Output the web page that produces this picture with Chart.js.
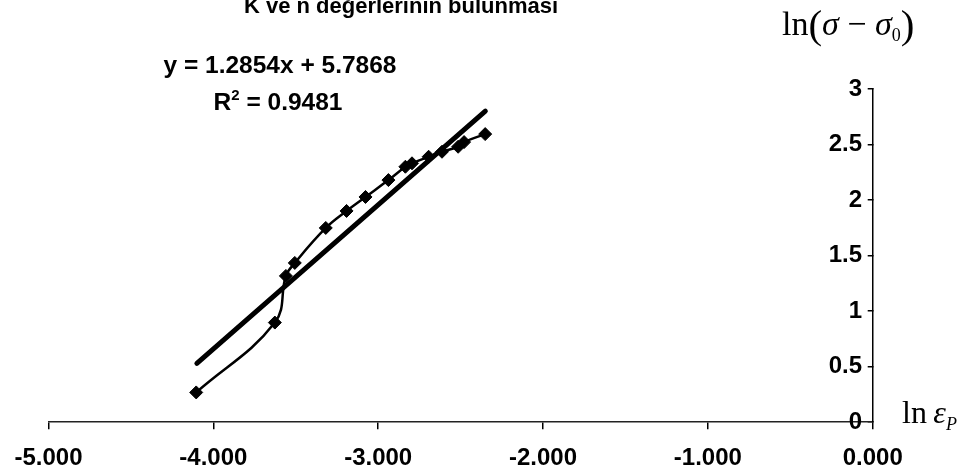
<!DOCTYPE html>
<html>
<head>
<meta charset="utf-8">
<script src="https://cdn.jsdelivr.net/npm/chart.js@4.4.1/dist/chart.umd.min.js"></script>
<style>
  html, body { margin: 0; padding: 0; background: #fff; overflow: hidden; }
  #wrap { width: 968px; height: 475px; }
</style>
</head>
<body>
<div id="wrap"><canvas id="c" width="968" height="475"></canvas></div>
<script>
// values
const lnEps = [-4.104, -3.627, -3.560, -3.506, -3.318, -3.192, -3.077, -2.938, -2.835, -2.795, -2.694, -2.613, -2.515, -2.479, -2.351];
const lnSigma = [0.268, 0.897, 1.317, 1.434, 1.749, 1.902, 2.028, 2.180, 2.300, 2.331, 2.390, 2.435, 2.480, 2.522, 2.594];

// linear trendline end points
const trendX = [-4.10, -2.35];
const trendY = [0.53, 2.80];

const xTicks = [-5, -4, -3, -2, -1, 0];
const yTicks = [0, 0.5, 1, 1.5, 2, 2.5, 3];

const titleText = 'K ve n değerlerinin bulunması';
const eqText = 'y = 1.2854x + 5.7868';
const r2Value = '0.9481';

const SANS = '"Liberation Sans", Arial, sans-serif';
const SERIF = '"Liberation Serif", "Times New Roman", serif';

// draw a run of [text, font, dy] pieces starting at x
function drawRun(ctx, parts, x, y) {
  parts.forEach(p => {
    ctx.font = p[1];
    ctx.fillText(p[0], x, y + (p[2] || 0));
    x += ctx.measureText(p[0]).width;
  });
}

function runWidth(ctx, parts) {
  let w = 0;
  parts.forEach(p => { ctx.font = p[1]; w += ctx.measureText(p[0]).width; });
  return w;
}

const textPlugin = {
  id: 'texts',
  afterDraw(chart) {
    const ctx = chart.ctx;
    ctx.save();
    ctx.fillStyle = '#000';
    ctx.textBaseline = 'alphabetic';
    ctx.textAlign = 'center';

    // title, cut at the top like the original
    ctx.font = 'bold 22px ' + SANS;
    ctx.fillText(titleText, 401, 13);

    // equation and R squared
    ctx.font = 'bold 24.5px ' + SANS;
    ctx.fillText(eqText, 280, 73);

    ctx.textAlign = 'left';
    const r2 = [
      ['R', 'bold 24.5px ' + SANS],
      ['2', 'bold 15px ' + SANS, -10],
      [' = ' + r2Value, 'bold 24.5px ' + SANS]
    ];
    drawRun(ctx, r2, 278 - runWidth(ctx, r2) / 2, 110);

    // y axis title
    const yt = [
      ['ln', '34px ' + SERIF],
      ['(', '41px ' + SERIF, 3],
      ['σ', 'italic 34px ' + SERIF],
      [' − ', '34px ' + SERIF],
      ['σ', 'italic 34px ' + SERIF],
      ['0', '18px ' + SERIF, 6],
      [')', '41px ' + SERIF, 3]
    ];
    drawRun(ctx, yt, 782, 35);

    // x axis title
    const xt = [
      ['ln\u2009', '32px ' + SERIF],
      ['ε', 'italic 32px ' + SERIF],
      ['P', 'italic 18px ' + SERIF, 7]
    ];
    drawRun(ctx, xt, 902, 423);

    ctx.restore();
  }
};

new Chart(document.getElementById('c'), {
  type: 'scatter',
  data: {
    datasets: [
      {
        label: 'trend',
        data: trendX.map((x, i) => ({ x, y: trendY[i] })),
        showLine: true,
        borderColor: '#000',
        borderWidth: 5,
        borderCapStyle: 'round',
        pointRadius: 0,
        tension: 0
      },
      {
        label: 'data',
        data: lnEps.map((x, i) => ({ x, y: lnSigma[i] })),
        showLine: true,
        borderColor: '#000',
        borderWidth: 2.5,
        tension: 0.4,
        pointStyle: 'rectRot',
        pointRadius: 6.5,
        pointBackgroundColor: '#000',
        pointBorderColor: '#000',
        pointBorderWidth: 1
      }
    ]
  },
  options: {
    responsive: false,
    animation: false,
    layout: { padding: { left: 45.2, right: 95.3, top: 89, bottom: -12 } },
    plugins: {
      legend: { display: false },
      tooltip: { enabled: false },
      title: { display: false }
    },
    scales: {
      x: {
        type: 'linear',
        position: 'bottom',
        min: -5,
        max: 0,
        afterBuildTicks: s => { s.ticks = xTicks.map(v => ({ value: v })); },
        ticks: {
          color: '#000',
          font: { family: SANS, size: 24, weight: 'bold' },
          padding: 14.5,
          maxRotation: 0,
          callback: v => v.toFixed(3)
        },
        grid: { drawOnChartArea: false, color: '#000', tickLength: 7, lineWidth: 1.5 },
        border: { color: '#222', width: 1.5 }
      },
      y: {
        type: 'linear',
        position: 'right',
        min: 0,
        max: 3,
        afterBuildTicks: s => { s.ticks = yTicks.map(v => ({ value: v })); },
        ticks: {
          color: '#000',
          mirror: true,
          font: { family: SANS, size: 24, weight: 'bold' },
          padding: -10.7,
          callback: v => String(v)
        },
        grid: { drawOnChartArea: false, color: '#000', tickLength: -5, lineWidth: 1.5 },
        border: { color: '#000', width: 1.5 }
      }
    }
  },
  plugins: [textPlugin]
});
</script>
</body>
</html>
